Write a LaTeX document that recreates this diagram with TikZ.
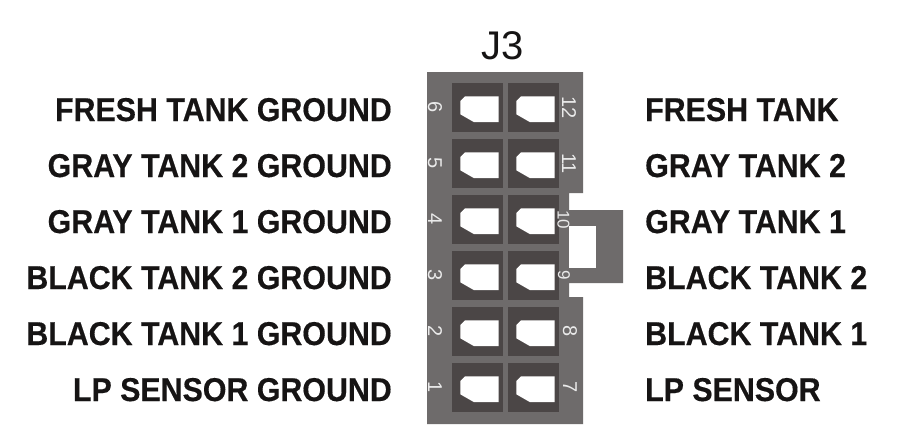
\documentclass[tikz,border=0pt]{standalone}
\usepackage{fontspec}
\setmainfont{Liberation Sans}
\newfontfamily\lblfont[FakeStretch=0.92,BoldFeatures={FakeBold=0.35}]{Liberation Sans}
\definecolor{bodygray}{HTML}{6E6B6B}
\definecolor{celldark}{HTML}{4B4646}
\definecolor{numgray}{HTML}{EAEAEA}
\definecolor{txt}{HTML}{161414}
\begin{document}
\begin{tikzpicture}[x=1pt,y=-1pt,
  lbl/.style={inner sep=0pt,text=txt,font=\lblfont\bfseries\fontsize{33}{33}\selectfont},
  lbll/.style={lbl,anchor=base east},
  lblr/.style={lbl,anchor=base west},
  cell/.style={anchor=north west,fill=celldark,minimum width=51pt,minimum height=49pt,inner sep=0pt,outer sep=0pt},
  pinnum/.style={inner sep=0pt,text=numgray,rotate=-90,font=\fontsize{20}{20}\selectfont},
  pinnumsm/.style={pinnum,font=\fontsize{17}{17}\selectfont},
  pinhole/.pic={\fill[white] (13,13.3) -- (46.7,13.3) -- (46.7,39) -- (21.7,39) -- (8.3,31.3) -- (8.3,18) -- cycle;}
]
\useasboundingbox (0,0) rectangle (917,445);
\fill[white] (0,0) rectangle (917,445);

% title
\node[inner sep=0pt,anchor=base,text=txt,font=\fontsize{40}{40}\selectfont] (title) at (502.5,59) {J3};

% connector body
\fill[bodygray] (427,72) -- (583,72) -- (583,193) -- (569,193) -- (569,210) -- (623,210)
  -- (623,283) -- (569,283) -- (569,297) -- (583,297) -- (583,424) -- (427,424) -- cycle;
\fill[white] (569,226) rectangle (596,268);

% cells
\foreach \r/\ln/\rn [count=\i from 0] in {1/6/12,2/5/11,3/4/10,4/3/9,5/2/8,6/1/7}{
  \pgfmathsetmacro{\yy}{83+56*\i}
  \node[cell] (cl\r) at (452,\yy) {};
  \node[cell] (cr\r) at (508,\yy) {};
  \pic at (452,\yy) {pinhole};
  \pic at (508,\yy) {pinhole};
  \node[pinnum] (nl\r) at (435,\yy+24.5) {\ln};
}
\node[pinnum] (nr1) at (569,107.5) {12};
\node[pinnum] (nr2) at (569,163.5) {11};
\node[pinnumsm] (nr3) at (563.5,219.5) {10};
\node[pinnumsm] (nr4) at (564,275.5) {9};
\node[pinnum] (nr5) at (570,331.5) {8};
\node[pinnum] (nr6) at (570,387.5) {7};

% left labels
\node[lbll] (ll1) at (392,121) {FRESH TANK GROUND};
\node[lbll] (ll2) at (392,177) {GRAY TANK 2 GROUND};
\node[lbll] (ll3) at (392,233) {GRAY TANK 1 GROUND};
\node[lbll] (ll4) at (392,289) {BLACK TANK 2 GROUND};
\node[lbll] (ll5) at (392,345) {BLACK TANK 1 GROUND};
\node[lbll] (ll6) at (392,401) {LP SENSOR GROUND};

% right labels
\node[lblr] (lr1) at (645,121) {FRESH TANK};
\node[lblr] (lr2) at (645,177) {GRAY TANK 2};
\node[lblr] (lr3) at (645,233) {GRAY TANK 1};
\node[lblr] (lr4) at (645,289) {BLACK TANK 2};
\node[lblr] (lr5) at (645,345) {BLACK TANK 1};
\node[lblr] (lr6) at (645,401) {LP SENSOR};
\end{tikzpicture}
\end{document}
